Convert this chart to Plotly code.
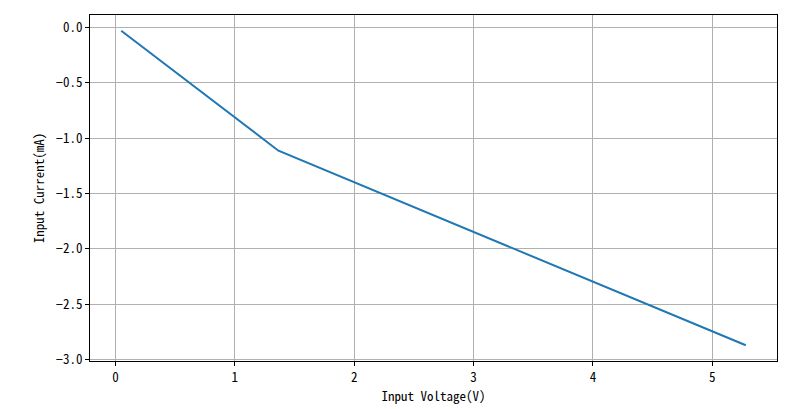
import plotly.graph_objects as go

voltage = [0.048, 1.365, 5.28]
current = [-0.029, -1.114, -2.873]
xticks = [0, 1, 2, 3, 4, 5]
yticks = [0.0, -0.5, -1.0, -1.5, -2.0, -2.5, -3.0]
yticklabels = [f"{v:.1f}".replace("-", "\u2212") for v in yticks]

FONT = "Noto Sans Mono CJK SC, Noto Sans CJK SC, sans-serif"

fig = go.Figure()
fig.add_trace(go.Scatter(x=voltage, y=current, mode="lines",
                         line=dict(color="#1f77b4", width=2)))

axis_common = dict(
    showline=True, linecolor="black", linewidth=1, mirror=True,
    ticks="outside", ticklen=4, tickcolor="black", tickwidth=1,
    showgrid=True, gridcolor="#b0b0b0", gridwidth=1,
    zeroline=False, automargin=False,
    tickfont=dict(family=FONT, size=13, color="black"),
)

fig.update_layout(
    width=800, height=409,
    margin=dict(l=90, r=23, t=15, b=48),
    paper_bgcolor="white", plot_bgcolor="white",
    showlegend=False,
    font=dict(family=FONT, size=13, color="black"),
    xaxis=dict(range=[-0.2136, 5.5416], tickvals=xticks,
               title=dict(text="Input Voltage(V)", standoff=6,
                          font=dict(family=FONT, size=13)),
               **axis_common),
    yaxis=dict(range=[-3.0152, 0.1132], tickvals=yticks, ticktext=yticklabels,
               title=dict(text="Input Current(mA)", standoff=8,
                          font=dict(family=FONT, size=13)),
               **axis_common),
)

fig.write_html("out.html", config={"displayModeBar": False},
               post_script="document.body.style.margin='0';document.body.style.overflow='hidden';")
